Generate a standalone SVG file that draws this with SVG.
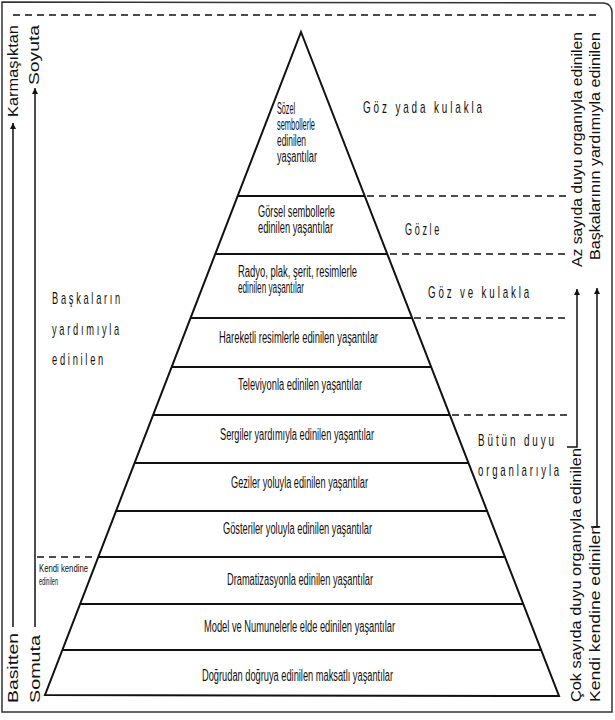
<svg xmlns="http://www.w3.org/2000/svg" width="615" height="720" viewBox="0 0 615 720">
<style>
.frame{fill:none;stroke:#333;stroke-width:1.5}
.pyr{fill:#fff;stroke:#111;stroke-width:2;stroke-linejoin:miter}
.band{stroke:#111;stroke-width:1.8;fill:none}
.dash{stroke:#111;stroke-width:1.6;fill:none;stroke-dasharray:7 5}
.ln{stroke:#111;stroke-width:1.5;fill:none}
.t{font-family:"Liberation Sans",Arial,sans-serif;font-size:16px;fill:#111}
.sp{font-family:"Liberation Sans",Arial,sans-serif;font-size:17px;fill:#111;letter-spacing:5px}
.v{font-family:"Liberation Sans",Arial,sans-serif;font-size:14.5px;fill:#111}
.s{font-family:"Liberation Sans",Arial,sans-serif;font-size:11.5px;fill:#111}
</style>
<defs>
<marker id="ah" viewBox="0 0 10 10" refX="10" refY="5" markerWidth="6" markerHeight="10" markerUnits="userSpaceOnUse" orient="auto">
<path d="M0,0 L10,5 L0,10 Z" fill="#111"/>
</marker>
</defs>
<rect width="615" height="720" fill="#fff"/>
<path class="frame" d="M2,2 L604,3 Q612,4 612,13 L612,712 L2,712 Z"/>

<g id="pyramid">
<polygon class="pyr" points="301,32 559,696 45,695"/>
</g>

<g id="band-sozel">
<text class="t" x="277" y="114" textLength="18" lengthAdjust="spacingAndGlyphs">Sözel</text>
<text class="t" x="277" y="130" textLength="38" lengthAdjust="spacingAndGlyphs">sembollerle</text>
<text class="t" x="277" y="146" textLength="29" lengthAdjust="spacingAndGlyphs">edinilen</text>
<text class="t" x="277" y="162" textLength="40" lengthAdjust="spacingAndGlyphs">yaşantılar</text>
</g>
<g id="band-gorsel">
<line class="band" x1="237" y1="196" x2="365" y2="196"/>
<text class="t" x="258" y="217" textLength="77" lengthAdjust="spacingAndGlyphs">Görsel sembollerle</text>
<text class="t" x="258" y="233" textLength="75" lengthAdjust="spacingAndGlyphs">edinilen yaşantılar</text>
</g>
<g id="band-radyo">
<line class="band" x1="215" y1="254" x2="388" y2="254"/>
<text class="t" x="238" y="277" textLength="119" lengthAdjust="spacingAndGlyphs">Radyo, plak, şerit, resimlerle</text>
<text class="t" x="238" y="293" textLength="66" lengthAdjust="spacingAndGlyphs">edinilen yaşantılar</text>
</g>
<g id="band-hareketli">
<line class="band" x1="190" y1="318" x2="412" y2="318"/>
<text class="t" x="219" y="343" textLength="159" lengthAdjust="spacingAndGlyphs">Hareketli resimlerle edinilen yaşantılar</text>
</g>
<g id="band-televizyon">
<line class="band" x1="171" y1="367" x2="431" y2="367"/>
<text class="t" x="238" y="390" textLength="124" lengthAdjust="spacingAndGlyphs">Televiyonla edinilen yaşantılar</text>
</g>
<g id="band-sergiler">
<line class="band" x1="153" y1="415" x2="450" y2="415"/>
<text class="t" x="220" y="440" textLength="154" lengthAdjust="spacingAndGlyphs">Sergiler yardımıyla edinilen yaşantılar</text>
</g>
<g id="band-geziler">
<line class="band" x1="134" y1="463" x2="469" y2="463"/>
<text class="t" x="231" y="488" textLength="137" lengthAdjust="spacingAndGlyphs">Geziler yoluyla edinilen yaşantılar</text>
</g>
<g id="band-gosteriler">
<line class="band" x1="116" y1="511" x2="487" y2="511"/>
<text class="t" x="223" y="534" textLength="149" lengthAdjust="spacingAndGlyphs">Gösteriler yoluyla edinilen yaşantılar</text>
</g>
<g id="band-dramatizasyon">
<line class="band" x1="98" y1="557" x2="505" y2="557"/>
<text class="t" x="227" y="585" textLength="146" lengthAdjust="spacingAndGlyphs">Dramatizasyonla edinilen yaşantılar</text>
</g>
<g id="band-model">
<line class="band" x1="80" y1="604" x2="523" y2="604"/>
<text class="t" x="204" y="632" textLength="191" lengthAdjust="spacingAndGlyphs">Model ve Numunelerle elde edinilen yaşantılar</text>
</g>
<g id="band-dogrudan">
<line class="band" x1="62" y1="650" x2="541" y2="650"/>
<text class="t" x="202" y="681" textLength="191" lengthAdjust="spacingAndGlyphs">Doğrudan doğruya edinilen maksatlı yaşantılar</text>
</g>

<g id="label-goz-kulak">
<text class="sp" x="363" y="113" textLength="122" lengthAdjust="spacingAndGlyphs">Göz yada kulakla</text>
</g>
<g id="label-gozle">
<text class="sp" x="405" y="235" textLength="37" lengthAdjust="spacingAndGlyphs">Gözle</text>
</g>
<g id="label-goz-ve-kulak">
<text class="sp" x="428" y="298" textLength="104" lengthAdjust="spacingAndGlyphs">Göz ve kulakla</text>
</g>
<g id="label-butun">
<text class="sp" x="478" y="446" textLength="79" lengthAdjust="spacingAndGlyphs">Bütün duyu</text>
<text class="sp" x="478" y="476" textLength="84" lengthAdjust="spacingAndGlyphs">organlarıyla</text>
</g>
<g id="label-baskalarin">
<text class="sp" x="52" y="304" textLength="71" lengthAdjust="spacingAndGlyphs">Başkaların</text>
<text class="sp" x="52" y="335" textLength="70" lengthAdjust="spacingAndGlyphs">yardımıyla</text>
<text class="sp" x="52" y="365" textLength="54" lengthAdjust="spacingAndGlyphs">edinilen</text>
</g>
<g id="label-kendi">
<text class="s" x="39" y="572" textLength="49" lengthAdjust="spacingAndGlyphs">Kendi kendine</text>
<text class="s" x="39" y="585" textLength="19" lengthAdjust="spacingAndGlyphs">edinilen</text>
</g>

<g id="axis-left">
<text class="v" transform="translate(18,117) rotate(-90)" textLength="92" lengthAdjust="spacingAndGlyphs">Karmaşıktan</text>
<text class="v" transform="translate(39,85) rotate(-90)" textLength="60" lengthAdjust="spacingAndGlyphs">Soyuta</text>
<text class="v" transform="translate(18,703) rotate(-90)" textLength="70" lengthAdjust="spacingAndGlyphs">Basitten</text>
<text class="v" transform="translate(40,703) rotate(-90)" textLength="68" lengthAdjust="spacingAndGlyphs">Somuta</text>
</g>
<g id="axis-right">
<text class="v" transform="translate(582,267) rotate(-90)" textLength="235" lengthAdjust="spacingAndGlyphs">Az  sayıda duyu organıyla edinilen</text>
<text class="v" transform="translate(600,260) rotate(-90)" textLength="228" lengthAdjust="spacingAndGlyphs">Başkalarının yardımıyla edinilen</text>
<text class="v" transform="translate(581,702) rotate(-90)" textLength="254" lengthAdjust="spacingAndGlyphs">Çok  sayıda duyu organıyla edinilen</text>
<text class="v" transform="translate(600,702) rotate(-90)" textLength="177" lengthAdjust="spacingAndGlyphs">Kendi kendine edinilen</text>
</g>

<g id="connectors">
<line class="dash" x1="13" y1="15" x2="601" y2="15"/>
<line class="dash" x1="367" y1="196" x2="568" y2="196"/>
<line class="dash" x1="390" y1="254" x2="566" y2="254"/>
<line class="dash" x1="414" y1="318" x2="566" y2="318"/>
<line class="dash" x1="452" y1="415" x2="572" y2="415"/>
<line class="dash" x1="37" y1="557" x2="97" y2="557"/>
<line class="ln" x1="13" y1="627" x2="13" y2="123" marker-end="url(#ah)"/>
<line class="ln" x1="35" y1="627" x2="35" y2="88" marker-end="url(#ah)"/>
<path class="ln" d="M567,447 L577,447 L577,289" marker-end="url(#ah)"/>
<path class="ln" d="M591,527 L597,527 L597,288" marker-end="url(#ah)"/>
</g>
</svg>
